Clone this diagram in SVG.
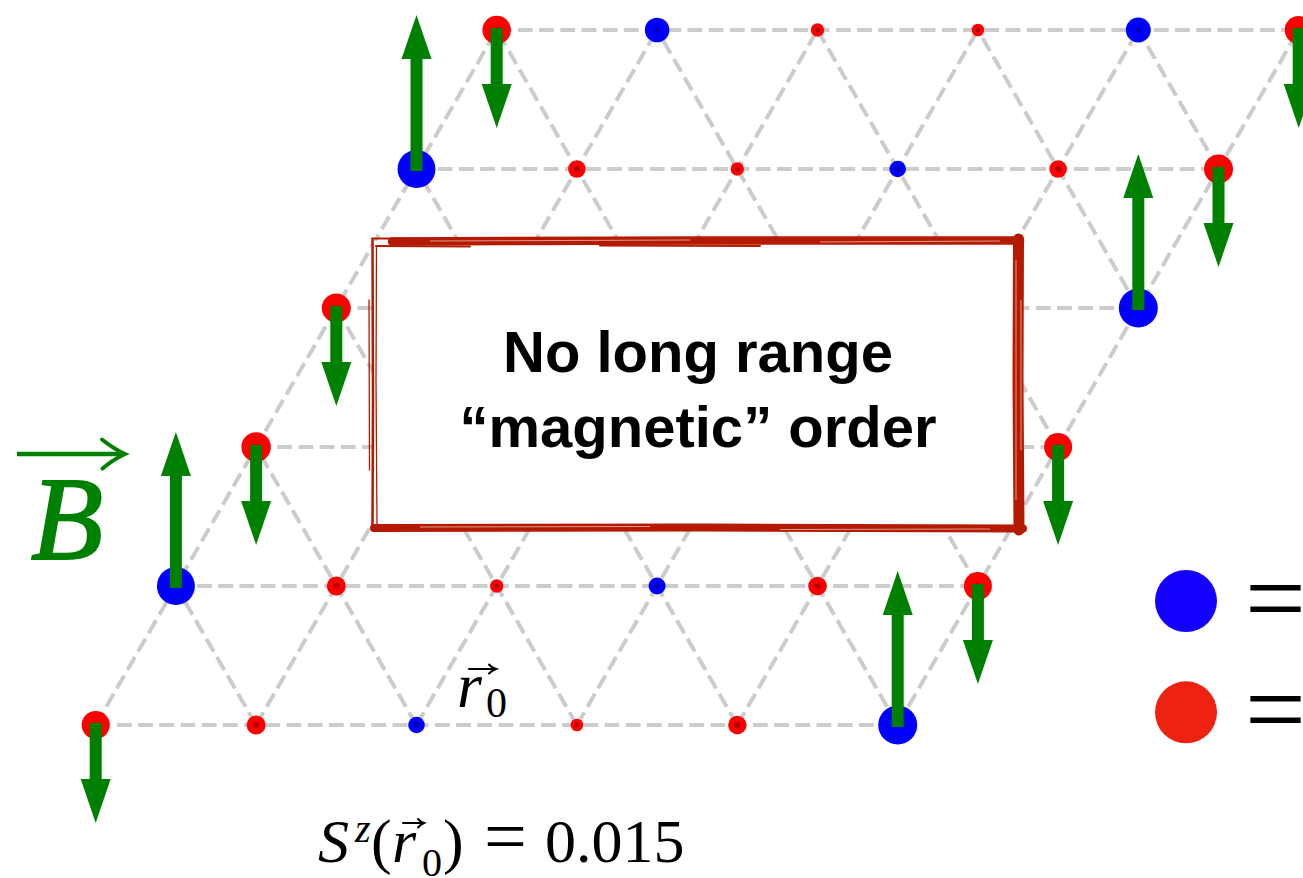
<svg xmlns="http://www.w3.org/2000/svg" xmlns:xlink="http://www.w3.org/1999/xlink" width="1303" height="878" viewBox="0 0 1303 878">
<style>
.bond{stroke:#cccccc;stroke-width:4;stroke-dasharray:14.8 6.4;fill:none}
.r{fill:#ff0000}
.b{fill:#0000ff}
.c{fill:#000;fill-opacity:0.28}
.spin{fill:#008000}
.edge{stroke:#b41a00;fill:none;stroke-linecap:round}
.streak{stroke:#ffffff;fill:none;stroke-opacity:0.7}
.boxtxt{font-family:"Liberation Sans",Arial,sans-serif;font-weight:bold;font-size:58px;fill:#000;text-anchor:middle}
.math{font-family:"Liberation Serif","Times New Roman",serif;fill:#000}
.it{font-style:italic}
</style>
<defs>
<path id="up" d="M-6,2 V-110 H-15 L0,-154 L15,-110 H6 V2 Z"/>
<path id="down" d="M-6,-2 V54 H-15 L0,98 L15,54 H6 V-2 Z"/>
</defs>
<rect width="1303" height="878" fill="#fff"/>

<g id="connectors">
<line class="bond" x1="95.7" y1="725" x2="897.7" y2="725"/>
<line class="bond" x1="175.9" y1="586" x2="977.9" y2="586"/>
<line class="bond" x1="256.1" y1="447" x2="1058.1" y2="447"/>
<line class="bond" x1="336.3" y1="308" x2="1138.3" y2="308"/>
<line class="bond" x1="416.5" y1="169" x2="1218.5" y2="169"/>
<line class="bond" x1="496.7" y1="30" x2="1298.7" y2="30"/>
<line class="bond" x1="95.7" y1="725" x2="496.7" y2="30"/>
<line class="bond" x1="256.1" y1="725" x2="657.1" y2="30"/>
<line class="bond" x1="416.5" y1="725" x2="817.5" y2="30"/>
<line class="bond" x1="576.9" y1="725" x2="977.9" y2="30"/>
<line class="bond" x1="737.3" y1="725" x2="1138.3" y2="30"/>
<line class="bond" x1="897.7" y1="725" x2="1298.7" y2="30"/>
<line class="bond" x1="256.1" y1="725" x2="175.9" y2="586"/>
<line class="bond" x1="416.5" y1="725" x2="256.1" y2="447"/>
<line class="bond" x1="576.9" y1="725" x2="336.3" y2="308"/>
<line class="bond" x1="737.3" y1="725" x2="416.5" y2="169"/>
<line class="bond" x1="897.7" y1="725" x2="496.7" y2="30"/>
<line class="bond" x1="977.9" y1="586" x2="657.1" y2="30"/>
<line class="bond" x1="1058.1" y1="447" x2="817.5" y2="30"/>
<line class="bond" x1="1138.3" y1="308" x2="977.9" y2="30"/>
<line class="bond" x1="1218.5" y1="169" x2="1138.3" y2="30"/>
</g>

<!-- row k=5, y=30 -->
<g id="s5_0"><circle class="r" cx="496.7" cy="30" r="14.3"/><circle class="c" cx="496.7" cy="30" r="3"/><use href="#down" class="spin" x="496.7" y="30"/></g>
<g id="s5_1"><circle class="b" cx="657.1" cy="30" r="12.3"/><circle class="c" cx="657.1" cy="30" r="3"/></g>
<g id="s5_2"><circle class="r" cx="817.5" cy="30" r="6.7"/><circle class="c" cx="817.5" cy="30" r="2.5"/></g>
<g id="s5_3"><circle class="r" cx="977.9" cy="30" r="6.3"/><circle class="c" cx="977.9" cy="30" r="2.5"/></g>
<g id="s5_4"><circle class="b" cx="1138.3" cy="30" r="12.5"/><circle class="c" cx="1138.3" cy="30" r="3"/></g>
<g id="s5_5"><circle class="r" cx="1298.7" cy="30" r="14"/><circle class="c" cx="1298.7" cy="30" r="3"/><use href="#down" class="spin" x="1298.7" y="30"/></g>
<!-- row k=4, y=169 -->
<g id="s4_0"><circle class="b" cx="416.5" cy="169" r="19"/><circle class="c" cx="416.5" cy="169" r="3"/><use href="#up" class="spin" x="416.5" y="169"/></g>
<g id="s4_1"><circle class="r" cx="576.9" cy="169" r="8.8"/><circle class="c" cx="576.9" cy="169" r="3"/></g>
<g id="s4_2"><circle class="r" cx="737.3" cy="169" r="6.7"/><circle class="c" cx="737.3" cy="169" r="2.5"/></g>
<g id="s4_3"><circle class="b" cx="897.7" cy="169" r="8.3"/><circle class="c" cx="897.7" cy="169" r="3"/></g>
<g id="s4_4"><circle class="r" cx="1058.1" cy="169" r="8.8"/><circle class="c" cx="1058.1" cy="169" r="3"/></g>
<g id="s4_5"><circle class="r" cx="1218.5" cy="169" r="14.5"/><circle class="c" cx="1218.5" cy="169" r="3"/><use href="#down" class="spin" x="1218.5" y="169"/></g>
<!-- row k=3, y=308 -->
<g id="s3_0"><circle class="r" cx="336.3" cy="308" r="14.5"/><circle class="c" cx="336.3" cy="308" r="3"/><use href="#down" class="spin" x="336.3" y="308"/></g>
<g id="s3_5"><circle class="b" cx="1138.3" cy="308" r="19.5"/><circle class="c" cx="1138.3" cy="308" r="3"/><use href="#up" class="spin" x="1138.3" y="308"/></g>
<!-- row k=2, y=447 -->
<g id="s2_0"><circle class="r" cx="256.1" cy="447" r="14.7"/><circle class="c" cx="256.1" cy="447" r="3"/><use href="#down" class="spin" x="256.1" y="447"/></g>
<g id="s2_5"><circle class="r" cx="1058.1" cy="447" r="14"/><circle class="c" cx="1058.1" cy="447" r="3"/><use href="#down" class="spin" x="1058.1" y="447"/></g>
<!-- row k=1, y=586 -->
<g id="s1_0"><circle class="b" cx="175.9" cy="586" r="19"/><circle class="c" cx="175.9" cy="586" r="3"/><use href="#up" class="spin" x="175.9" y="586"/></g>
<g id="s1_1"><circle class="r" cx="336.3" cy="586" r="9.5"/><circle class="c" cx="336.3" cy="586" r="3"/></g>
<g id="s1_2"><circle class="r" cx="496.7" cy="586" r="6.7"/><circle class="c" cx="496.7" cy="586" r="2.5"/></g>
<g id="s1_3"><circle class="b" cx="657.1" cy="586" r="8.5"/><circle class="c" cx="657.1" cy="586" r="3"/></g>
<g id="s1_4"><circle class="r" cx="817.5" cy="586" r="9.3"/><circle class="c" cx="817.5" cy="586" r="3"/></g>
<g id="s1_5"><circle class="r" cx="977.9" cy="586" r="14"/><circle class="c" cx="977.9" cy="586" r="3"/><use href="#down" class="spin" x="977.9" y="586"/></g>
<!-- row k=0, y=725 -->
<g id="s0_0"><circle class="r" cx="95.7" cy="725" r="14"/><circle class="c" cx="95.7" cy="725" r="3"/><use href="#down" class="spin" x="95.7" y="725"/></g>
<g id="s0_1"><circle class="r" cx="256.1" cy="725" r="9.5"/><circle class="c" cx="256.1" cy="725" r="3"/></g>
<g id="s0_2"><circle class="b" cx="416.5" cy="725" r="8.3"/><circle class="c" cx="416.5" cy="725" r="3"/></g>
<g id="s0_3"><circle class="r" cx="576.9" cy="725" r="6.3"/><circle class="c" cx="576.9" cy="725" r="2.5"/></g>
<g id="s0_4"><circle class="r" cx="737.3" cy="725" r="9.2"/><circle class="c" cx="737.3" cy="725" r="3"/></g>
<g id="s0_5"><circle class="b" cx="897.7" cy="725" r="19.5"/><circle class="c" cx="897.7" cy="725" r="3"/><use href="#up" class="spin" x="897.7" y="725"/></g>

<!-- message box -->
<g id="message-box">
<rect x="372" y="241" width="645" height="287" fill="#ffffff"/>
<path class="edge" stroke-width="8.5" d="M392,241.5 L700,240.5 L1020,240.5"/>
<path class="edge" stroke-width="2" d="M372,238.5 L560,239 M376,246 L470,246.5 M600,245.5 L760,246"/>
<path class="edge" stroke-width="11" d="M1018.5,239 L1018,380 L1019,530"/>
<path class="edge" stroke-width="8" d="M374,528 L700,527.5 L1023,528.5"/>
<path class="edge" stroke-width="2.5" d="M372.5,240 L373,400 L372.5,528"/>
<path class="edge" stroke-width="1.3" d="M376.5,246 L376,380 L377,524 M369,300 L369.5,470"/>
<path class="streak" stroke-width="0.8" d="M430,241 L690,240 M820,242 L1000,241 M1016,260 L1016,500 M1021,300 L1021,450 M420,527 L650,526.5 M780,529.5 L990,529"/>
<text class="boxtxt" x="698" y="372">No long range</text>
<text class="boxtxt" x="698" y="447">“magnetic” order</text>
</g>

<!-- field label -->
<g id="field-label">
<path d="M17,454 H123" stroke="#008000" stroke-width="4.5" fill="none"/>
<path d="M102,439.5 Q114,449 125,454 Q114,459 102.5,468.5" stroke="#008000" stroke-width="4" fill="none" stroke-linecap="round"/>
<text class="math it" x="31" y="559" font-size="118" style="fill:#008000" stroke="#008000" stroke-width="2">B</text>
</g>

<!-- r0 label -->
<g id="r0-label">
<text class="math it" x="457" y="707" font-size="64">r</text>
<path d="M469,669 H495 M489,664.5 Q492,668 496,669 Q492,670.5 489,673.5" stroke="#000" stroke-width="2" fill="none" stroke-linecap="round"/>
<text class="math" x="486" y="717" font-size="42">0</text>
</g>

<!-- formula -->
<g id="formula">
<text class="math it" x="318" y="862" font-size="62">S</text>
<text class="math it" x="355" y="842" font-size="40">z</text>
<text class="math" x="371" y="862" font-size="62">(</text>
<text class="math it" x="392" y="862" font-size="62">r</text>
<path d="M403,823 H423 M418,819 Q420.5,822 424,823 Q420.5,824.5 418,827.5" stroke="#000" stroke-width="2" fill="none" stroke-linecap="round"/>
<text class="math" x="422" y="876" font-size="40">0</text>
<text class="math" x="443" y="862" font-size="62">)</text>
<text class="math" x="484" y="862" font-size="76">=</text>
<text class="math" x="545" y="862" font-size="62">0.015</text>
</g>

<!-- legend -->
<g id="legend-blue">
<circle cx="1186" cy="601" r="31" fill="#1400ff"/>
<text class="math" x="1245" y="634" font-size="108">=</text>
</g>
<g id="legend-red">
<circle cx="1186" cy="712.3" r="31" fill="#ee2211"/>
<text class="math" x="1245" y="745" font-size="108">=</text>
</g>
</svg>
